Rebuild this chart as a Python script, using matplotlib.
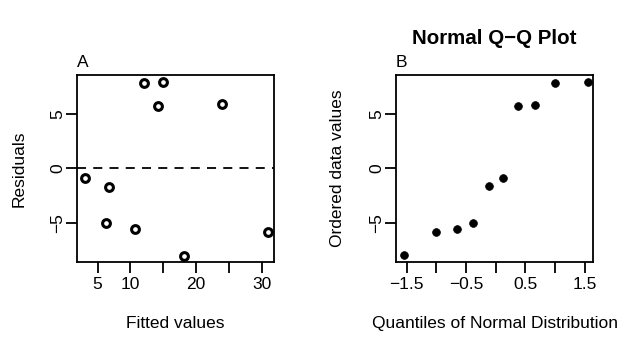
import matplotlib
matplotlib.use("Agg")
import matplotlib.pyplot as plt

plt.rcParams['font.family'] = ['Liberation Sans', 'DejaVu Sans']

# Panel A: residuals vs fitted values
fitted = [3.02, 6.74, 6.22, 10.65, 12.03, 14.98, 14.17, 18.19, 23.99, 31.03]
residuals = [-0.92, -1.69, -5.05, -5.60, 7.80, 7.89, 5.74, -8.02, 5.87, -5.87]

# Panel B: normal Q-Q
theoretical_q = [-1.55, -1.0, -0.66, -0.38, -0.12, 0.12, 0.38, 0.66, 1.0, 1.55]
ordered_vals = [-7.98, -5.84, -5.60, -5.05, -1.62, -0.92, 5.72, 5.83, 7.80, 7.89]

xticks_a = [5, 10, 15, 20, 25, 30]
xticklabels_a = ['5', '10', '', '20', '', '30']
xticks_b = [-1.5, -1.0, -0.5, 0.0, 0.5, 1.0, 1.5]
xticklabels_b = ['\u22121.5', '', '\u22120.5', '', '0.5', '', '1.5']
yticks = [-5, 0, 5]
yticklabels = ['\u22125', '0', '5']

FS = 12.5
W, H = 640, 350
fig = plt.figure(figsize=(6.4, 3.5), dpi=100)

def box(l, r, t, b):
    return [l / W, 1 - b / H, (r - l) / W, (b - t) / H]

axA = fig.add_axes(box(77, 274, 75, 262))
axB = fig.add_axes(box(396, 593, 75, 262))

for ax in (axA, axB):
    for s in ax.spines.values():
        s.set_linewidth(1.3)
    ax.tick_params(direction='out', length=7.8, width=1.3, labelsize=FS, pad=3)
    ax.tick_params(axis='y', pad=0.8)
    ax.set_yticks(yticks)
    ax.set_yticklabels(yticklabels, rotation=90, va='center')
    ax.set_ylim(-8.6, 8.55)

axA.plot(fitted, residuals, linestyle='none', marker='o', markersize=5.6,
         markerfacecolor='none', markeredgecolor='black', markeredgewidth=2.2)
axA.axhline(0, color='black', linestyle=(0, (5, 4)), linewidth=1.3)
axA.set_xlim(1.85, 31.88)
axA.set_xticks(xticks_a)
axA.set_xticklabels(xticklabels_a)
axA.set_xlabel('Fitted values', fontsize=FS, labelpad=17)
axA.set_ylabel('Residuals', fontsize=FS, labelpad=17)
axA.set_title('A', loc='left', fontsize=FS, pad=6)

axB.plot(theoretical_q, ordered_vals, linestyle='none', marker='o', markersize=5.6,
         markerfacecolor='black', markeredgecolor='black', markeredgewidth=0.5)
axB.set_xlim(-1.68, 1.64)
axB.set_xticks(xticks_b)
axB.set_xticklabels(xticklabels_b)
axB.set_xlabel('Quantiles of Normal Distribution', fontsize=FS, labelpad=17)
axB.set_ylabel('Ordered data values', fontsize=FS, labelpad=17)
axB.set_title('B', loc='left', fontsize=FS, pad=6)
fig.text(494.5 / W, 1 - 38 / H, 'Normal Q\u2212Q Plot', fontsize=14.8,
         fontweight='bold', ha='center', va='center')

fig.savefig('out.png', dpi=100)
